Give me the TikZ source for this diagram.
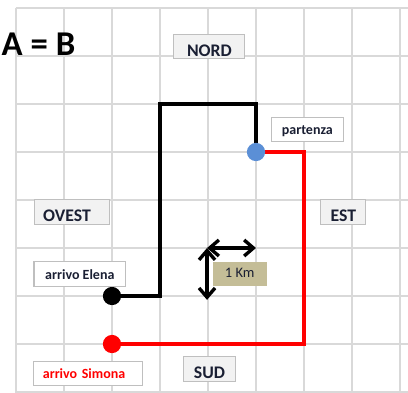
\documentclass[tikz,border=0pt]{standalone}
\usepackage{fontspec}
\setmainfont{Carlito}
\usetikzlibrary{arrows.meta, backgrounds}

\definecolor{gridgray}{HTML}{D9D9D9}
\definecolor{boxline}{HTML}{BFBFBF}
\definecolor{boxfill}{HTML}{F2F2F2}
\definecolor{labelink}{HTML}{1A1F33}
\definecolor{dotblue}{HTML}{5B8FD6}
\definecolor{kmfill}{HTML}{C4BD97}

\tikzset{
  gridline/.style={gridgray, line width=0.9pt},
  compass/.style={draw=boxline, line width=0.6pt, fill=boxfill, inner sep=0pt,
    text height=0.458cm, text depth=0.05cm, text=labelink,
    font=\bfseries\fontsize{10.5}{12}\selectfont},
  tag/.style={draw=boxline, line width=0.6pt, fill=white, inner sep=0pt,
    text height=0.37cm, text depth=0.14cm, text=labelink,
    font=\bfseries\fontsize{8.3}{10}\selectfont},
  endpoint/.style={circle, inner sep=0pt, minimum size=0.38cm},
  route/.style={line width=2pt},
  kmarrow/.style={line width=2pt, {Straight Barb[length=5.5pt,width=9.5pt]}-{Straight Barb[length=5.5pt,width=9.5pt]}},
}

\begin{document}
\begin{tikzpicture}
    \useasboundingbox (-0.3333,0.1667) rectangle (8.1667,-8);

    % Points
    \coordinate (p0) at (5,-3);
    \coordinate (pE) at (2,-6);
    \coordinate (pS) at (2,-7);
    \coordinate (e1) at (5,-2);
    \coordinate (e2) at (3,-2);
    \coordinate (e3) at (3,-6);
    \coordinate (s1) at (6,-3);
    \coordinate (s2) at (6,-7);

    \begin{scope}[on background layer]
        % Grid
        \foreach \i in {0,...,8} {
            \draw[gridline] (\i,0) -- (\i,-8.2);
            \draw[gridline] (0,-\i) -- (8.2,-\i);
        }
        % Routes
        \draw[route, black] (p0) -- (e1) -- (e2) -- (e3) -- (pE);
        \draw[route, red] (p0) -- (s1) -- (s2) -- (pS);
    \end{scope}

    % Dots
    \node[endpoint, fill=dotblue] (start) at (p0) {};
    \node[endpoint, fill=black] (elena) at (pE) {};
    \node[endpoint, fill=red] (simona) at (pS) {};

    % Title
    \node[font=\bfseries\fontsize{20.6}{24}\selectfont, anchor=base west, inner sep=0pt] (title) at (-0.304,-0.979) {A = B};

    % Compass labels
    \node[compass, minimum width=1.48cm] (nord) at (4.03,-0.80) {NORD};
    \node[compass, text width=1.2cm, inner xsep=0.19cm, align=left] (ovest) at (1.167,-4.25) {OVEST};
    \node[compass, minimum width=0.94cm] (est) at (6.82,-4.25) {EST};
    \node[compass, minimum width=1.09cm] (sud) at (4.03,-7.52) {SUD};

    % Tags
    \node[tag, minimum width=1.49cm] (partenza) at (6.07,-2.53) {partenza};
    \node[tag, minimum width=1.91cm] (arrivoE) at (1.33,-5.54) {arrivo Elena};
    \node[tag, text width=1.88cm, inner xsep=0.19cm, align=left, text=red] (arrivoS) at (1.50,-7.61) {arrivo Simona};

    % Scale
    \coordinate (kmO) at (3.98,-5);
    \coordinate (kmE) at (5,-5);
    \coordinate (kmS) at (3.98,-6.08);
    \node[fill=kmfill, inner sep=0pt, minimum width=1.12cm, text height=0.33cm, text depth=0.18cm,
      font=\fontsize{8.6}{10}\selectfont, text=labelink] (km) at (4.66,-5.54) {1 Km};
    \draw[kmarrow] (kmO) -- (kmE);
    \draw[kmarrow] (kmO) -- (kmS);
\end{tikzpicture}
\end{document}
